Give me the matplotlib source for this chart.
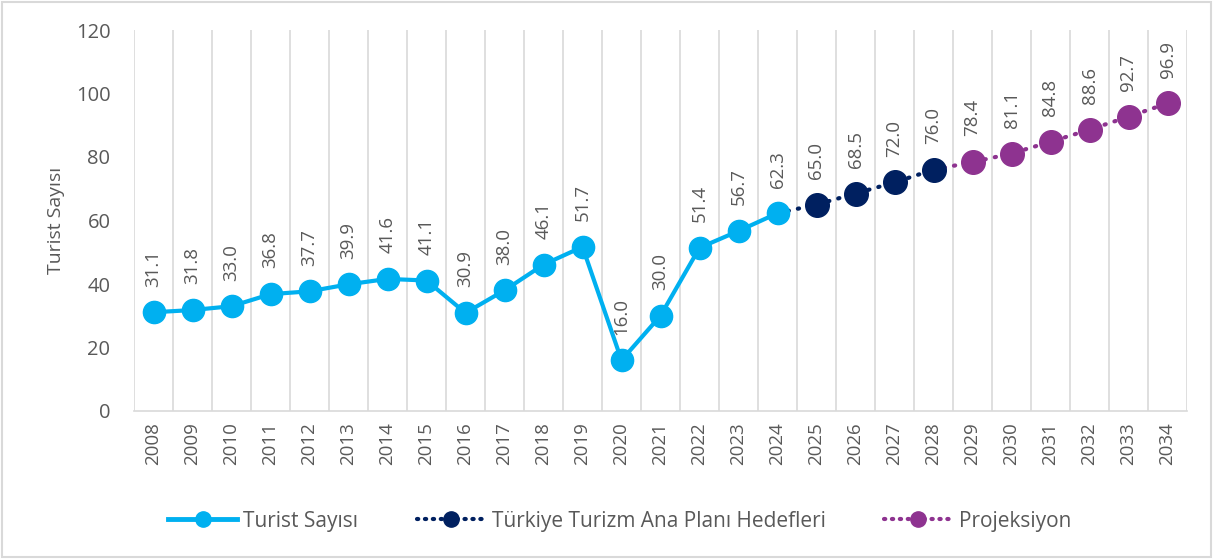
import matplotlib
matplotlib.use("Agg")
import matplotlib.pyplot as plt
from matplotlib.lines import Line2D
from matplotlib.patches import Rectangle

plt.rcParams['font.family'] = ['Open Sans', 'DejaVu Sans']

years = [str(y) for y in range(2008, 2035)]
actual_years = list(range(2008, 2025))
actual = [31.1, 31.8, 33.0, 36.8, 37.7, 39.9, 41.6, 41.1, 30.9, 38.0, 46.1, 51.7,
          16.0, 30.0, 51.4, 56.7, 62.3]
target_years = list(range(2024, 2029))
target = [62.3, 65.0, 68.5, 72.0, 76.0]
proj_years = list(range(2028, 2035))
proj = [76.0, 78.4, 81.1, 84.8, 88.6, 92.7, 96.9]

c_cyan = '#00B0F0'
c_navy = '#002060'
c_purple = '#8E3390'
c_text = '#595959'
c_grid = '#D9D9D9'

fig = plt.figure(figsize=(12.15, 5.59), dpi=100)
ax = fig.add_axes([134/1215, 1-411/559, (1187-134)/1215, (411-30)/559])

idx = {int(y): i for i, y in enumerate(years)}

dot = (0, (0.3, 2.2))
ax.plot([idx[y] for y in proj_years], proj, linestyle=dot, color=c_purple,
        linewidth=3.0, dash_capstyle='round', zorder=2)
ax.plot([idx[y] for y in proj_years[1:]], proj[1:], linestyle='none', marker='o',
        markersize=17, color=c_purple, zorder=3)
ax.plot([idx[y] for y in target_years], target, linestyle=dot, color=c_navy,
        linewidth=3.0, dash_capstyle='round', zorder=2)
ax.plot([idx[y] for y in target_years[1:]], target[1:], linestyle='none', marker='o',
        markersize=17, color=c_navy, zorder=3)
ax.plot([idx[y] for y in actual_years], actual, color=c_cyan, linewidth=3, marker='o',
        markersize=16, zorder=4)

def lab(xs, vs):
    for x, v in zip(xs, vs):
        ax.annotate(f"{v:.1f}", (idx[x], v), xytext=(0, 18.5), textcoords='offset points',
                    rotation=90, ha='center', va='bottom', fontsize=13.5, color=c_text)

lab(actual_years, actual)
lab(target_years[1:], target[1:])
lab(proj_years[1:], proj[1:])

ax.set_xlim(-0.5, len(years) - 0.5)
ax.set_ylim(0, 120)
ax.set_yticks(range(0, 121, 20))
ax.set_xticks(range(len(years)))
ax.set_xticklabels(years, rotation=90, fontsize=13.5, color=c_text)
ax.tick_params(axis='y', labelsize=14.5, colors=c_text, length=0, pad=17)
ax.tick_params(axis='x', length=0, pad=8, colors=c_text)
for i in range(len(years) + 1):
    ax.axvline(i - 0.5, color=c_grid, linewidth=1.2, zorder=0)
for s in ['top', 'right', 'left']:
    ax.spines[s].set_visible(False)
ax.spines['bottom'].set_color(c_grid)
ax.spines['bottom'].set_linewidth(1.2)
ax.set_ylabel('Turist Sayısı', fontsize=14, color=c_text, labelpad=8)

handles = [
    Line2D([0], [0], color=c_cyan, linewidth=3.5, marker='o', markersize=11),
    Line2D([0], [0], color=c_navy, linewidth=3, linestyle=(0, (0.3, 1.6)),
           dash_capstyle='round', marker='o', markersize=11),
    Line2D([0], [0], color=c_purple, linewidth=3, linestyle=(0, (0.3, 1.6)),
           dash_capstyle='round', marker='o', markersize=11),
]
labels = ['Turist Sayısı', 'Türkiye Turizm Ana Planı Hedefleri', 'Projeksiyon']
leg = fig.legend(handles, labels, loc='center', bbox_to_anchor=(0.51, 1-521/559), ncol=3,
                 frameon=False, fontsize=15, handlelength=3.3, columnspacing=2.8,
                 handletextpad=0.3)
for t in leg.get_texts():
    t.set_color(c_text)

fig.patches.append(Rectangle((0.002, 0.003), 0.995, 0.993, transform=fig.transFigure,
                             fill=False, edgecolor='#D9D9D9', linewidth=1.5))

fig.savefig('out.png', dpi=100)
